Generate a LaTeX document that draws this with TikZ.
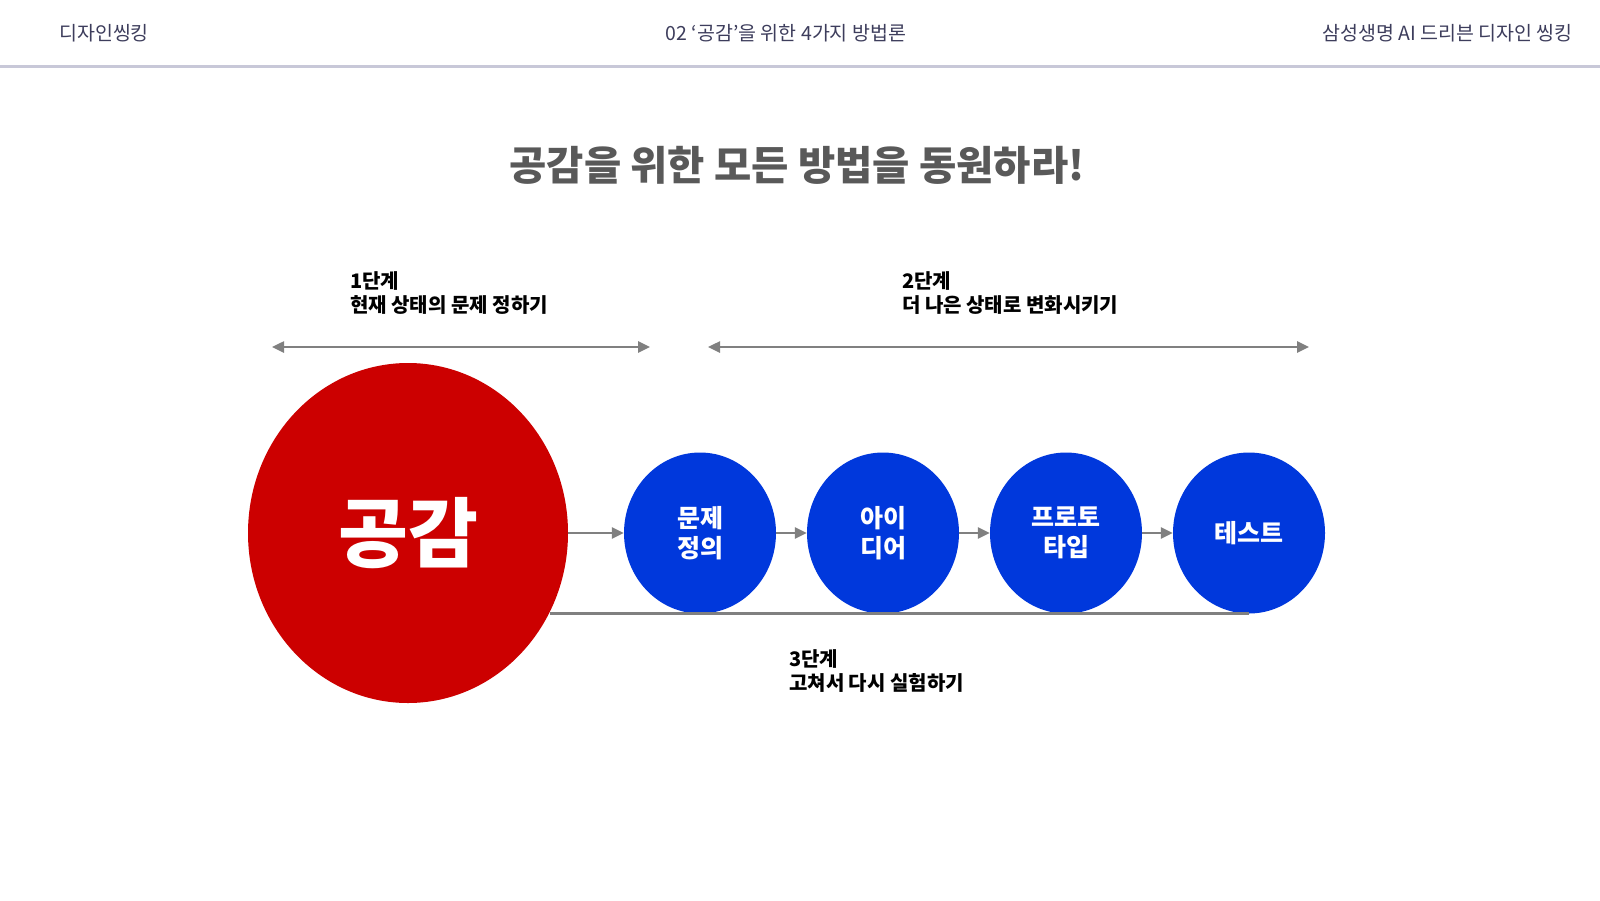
\documentclass[tikz,border=0pt]{standalone}
\usepackage{fontspec}
\newfontfamily\kr{Noto Sans CJK KR}
\usetikzlibrary{arrows.meta,shapes.geometric}
\definecolor{kred}{HTML}{CC0000}
\definecolor{kblue}{HTML}{0038DC}
\definecolor{agray}{HTML}{808080}
\definecolor{hdr}{HTML}{3D3D5C}
\definecolor{rulec}{HTML}{C8C8D8}
\definecolor{ttl}{HTML}{595959}
\begin{document}
\begin{tikzpicture}[x=1pt,y=-1pt,
  stepcircle/.style={ellipse, fill=kblue, minimum width=152pt, minimum height=161pt, inner sep=0pt, text=white, font=\kr\bfseries\fontsize{25}{30}\selectfont, align=center},
  bigcircle/.style={ellipse, fill=kred, minimum width=320pt, minimum height=340pt, inner sep=0pt, text=white, font=\kr\bfseries\fontsize{76}{80}\selectfont},
  link/.style={draw=agray, line width=2.5pt, -{Triangle[length=12pt,width=11pt]}},
  span/.style={draw=agray, line width=2.5pt, {Triangle[length=12pt,width=11pt]}-{Triangle[length=12pt,width=11pt]}},
  base/.style={draw=agray, line width=3pt},
  hdrtext/.style={text=hdr, font=\kr\fontsize{19.5}{22}\selectfont, inner sep=0pt},
  stagetext/.style={text=black, font=\kr\bfseries\fontsize{20}{24}\selectfont, align=left, anchor=west, inner sep=0pt}
]
\useasboundingbox (0,0) rectangle (1600,900);
\fill[white] (0,0) rectangle (1600,900);

% header
\node[hdrtext, anchor=west] (hl) at (59,33) {디자인씽킹};
\node[hdrtext] (hc) at (786,33) {02 ‘공감’을 위한 4가지 방법론};
\node[hdrtext, anchor=east] (hr) at (1573,33) {삼성생명 AI 드리븐 디자인 씽킹};
\draw[rulec, line width=3pt] (0,66) -- (1600,66);

% title
\node[text=ttl, font=\kr\bfseries\fontsize{40.5}{44}\selectfont] (title) at (797,165) {공감을 위한 모든 방법을 동원하라!};

% stage labels
\node[stagetext] (s1) at (350,293) {1단계\\현재 상태의 문제 정하기};
\node[stagetext] (s2) at (902,293) {2단계\\더 나은 상태로 변화시키기};
\node[stagetext] (s3) at (789,671) {3단계\\고쳐서 다시 실험하기};

% span arrows
\coordinate (a1l) at (272,347);
\coordinate (a1r) at (650,347);
\coordinate (a2l) at (708,347);
\coordinate (a2r) at (1309,347);
\draw[span] (a1l) -- (a1r);
\draw[span] (a2l) -- (a2r);

% circles
\node[bigcircle] (gk) at (408,533) {공감};
\node[stepcircle] (b1) at (700,533) {문제\\정의};
\node[stepcircle] (b2) at (883,533) {아이\\디어};
\node[stepcircle] (b3) at (1066,533) {프로토\\타입};
\node[stepcircle] (b4) at (1249,533) {테스트};

% links
\draw[link] (gk.east) -- (b1.west);
\draw[link] (b1.east) -- (b2.west);
\draw[link] (b2.east) -- (b3.west);
\draw[link] (b3.east) -- (b4.west);
\draw[base] (b4.south -| gk.-29.6) -- (b4.south);
\end{tikzpicture}
\end{document}
